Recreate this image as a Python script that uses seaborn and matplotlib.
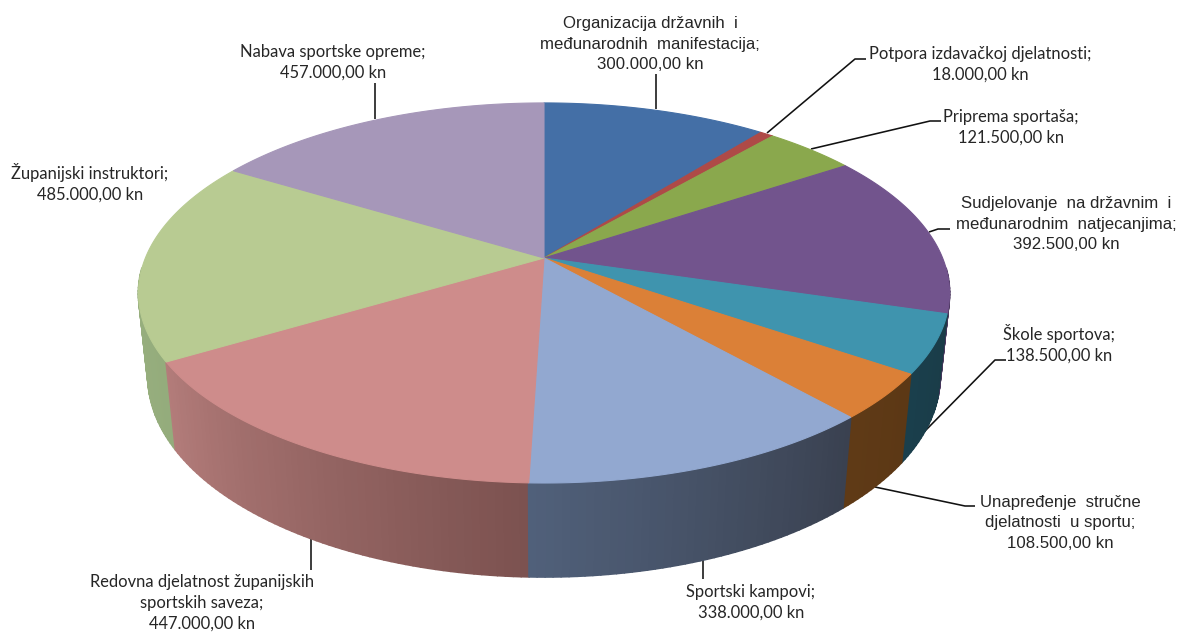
"""
Budget split as an Excel style 3D pie, drawn on a pixel sized axes.
"""

import numpy as np
import matplotlib
matplotlib.use("Agg")
import matplotlib.pyplot as plt
from matplotlib.collections import PolyCollection
import seaborn as sns

# ── Data ─────────────────────────────────────────────────────────────────────
categories = [
    "Organizacija državnih  i\nmeđunarodnih  manifestacija;",
    "Potpora izdavačkoj djelatnosti;",
    "Priprema sportaša;",
    "Sudjelovanje  na državnim  i\nmeđunarodnim  natjecanjima;",
    "Škole sportova;",
    "Unapređenje  stručne\ndjelatnosti  u sportu;",
    "Sportski kampovi;",
    "Redovna djelatnost županijskih\nsportskih saveza;",
    "Županijski instruktori;",
    "Nabava sportske opreme;",
]
values = [300000, 18000, 121500, 392500, 138500, 108500, 338000, 447000, 485000, 457000]
value_labels = ["300.000,00 kn", "18.000,00 kn", "121.500,00 kn", "392.500,00 kn",
                "138.500,00 kn", "108.500,00 kn", "338.000,00 kn", "447.000,00 kn",
                "485.000,00 kn", "457.000,00 kn"]

# ── Styles ───────────────────────────────────────────────────────────────────
top_colors = ["#446FA6", "#AE4A47", "#8AA84D", "#72548D", "#3F94AE",
              "#DB8037", "#92A8D0", "#CE8C8B", "#B8CB92", "#A697B9"]
side_left = ["#2E4A70", "#752F2E", "#5C7033", "#4B375E", "#1A3F4C",
             "#5F3A16", "#50607A", "#B37C7A", "#A0B583", "#8E80A0"]
side_right = ["#2E4A70", "#752F2E", "#5C7033", "#4B375E", "#1A3C48",
              "#5C3815", "#3A4150", "#7C5250", "#94AC7C", "#8E80A0"]
fonts = ["Liberation Sans", "Lato", "Lato", "Liberation Sans", "Lato",
         "Liberation Sans", "Lato", "Lato", "Lato", "Lato"]
label_x = [650, 980, 1011, 1066, 1059, 1060, 751, 202, 90, 333]
label_y = [44, 64.5, 127.5, 224, 344, 523, 602, 603, 182.5, 62.5]
leaders = [
    [(656, 74), (656, 109)],
    [(767, 133), (855, 59), (866, 59)],
    [(811, 149), (930, 121), (941, 121)],
    [(929, 232), (938, 229), (950, 229)],
    [(924, 432), (995, 360), (1006, 360)],
    [(875, 487), (965, 506), (975, 506)],
    [(703, 560), (703, 579)],
    [(311, 538), (311, 570)],
    [],
    [(375, 83), (375, 119)],
]

# ── Projection of the disc (perspective seen from above) ─────────────────────
CX, CY = 544, 258
RX, RY = 398.6, 183.6
PERSP = 0.184
DEPTH_Y, DEPTH_W = 84, 0.023


def project(theta, z=0.0):
    u, v = np.sin(theta), -np.cos(theta)
    w = 1 - PERSP * v + DEPTH_W * z
    return CX + RX * u / w, CY + (RY * v + DEPTH_Y * z) / w


# ── Figure ───────────────────────────────────────────────────────────────────
sns.set_theme(style="white")
fig = plt.figure(figsize=(11.78, 6.32), dpi=100)
ax = fig.add_axes([0, 0, 1, 1])
ax.set_xlim(0, 1178)
ax.set_ylim(632, 0)
ax.set_axis_off()

edges = np.cumsum([0] + values) / sum(values) * 2 * np.pi

for pts in leaders:
    if pts:
        xs, ys = zip(*pts)
        ax.plot(xs, ys, color="#111111", lw=1.15, zorder=1, solid_capstyle="butt")

# side walls, only the part facing the viewer, back to front
quads, quad_colors, quad_depth = [], [], []
for i in range(len(values)):
    n = max(int((edges[i + 1] - edges[i]) * 60), 2)
    ang = np.linspace(edges[i], edges[i + 1], n + 1)
    shades = sns.blend_palette([side_right[i], side_left[i]], n)
    for j in range(n):
        a = ang[j:j + 2]
        if -np.cos(a.mean()) < 0.05:
            continue
        x0, y0 = project(a, 0)
        x1, y1 = project(a, 1)
        quads.append([(x0[0], y0[0]), (x0[1], y0[1]), (x1[1], y1[1]), (x1[0], y1[0])])
        quad_colors.append(shades[j])
        quad_depth.append(-np.cos(a.mean()))
order = np.argsort(quad_depth)
ax.add_collection(PolyCollection(
    [quads[k] for k in order],
    facecolors=[quad_colors[k] for k in order],
    edgecolors=[quad_colors[k] for k in order],
    linewidths=1.3,
    zorder=2,
))

# top faces
palette = sns.color_palette(top_colors)
for i in range(len(values)):
    ang = np.linspace(edges[i], edges[i + 1], 120)
    x, y = project(ang)
    ax.fill(np.r_[CX, x], np.r_[CY, y], facecolor=palette[i], edgecolor=palette[i],
            lw=0.8, zorder=3)

# labels
for i in range(len(values)):
    is_lato = fonts[i] == "Lato"
    ax.text(label_x[i], label_y[i], categories[i] + "\n" + value_labels[i],
            ha="center", va="center", multialignment="center",
            family=fonts[i], fontsize=11.9 if is_lato else 12.1,
            linespacing=1.36 if is_lato else 1.46, color="#262626", zorder=4)

sns.despine(ax=ax, left=True, bottom=True)
fig.savefig("out.png", dpi=100, facecolor="white")
plt.close(fig)
